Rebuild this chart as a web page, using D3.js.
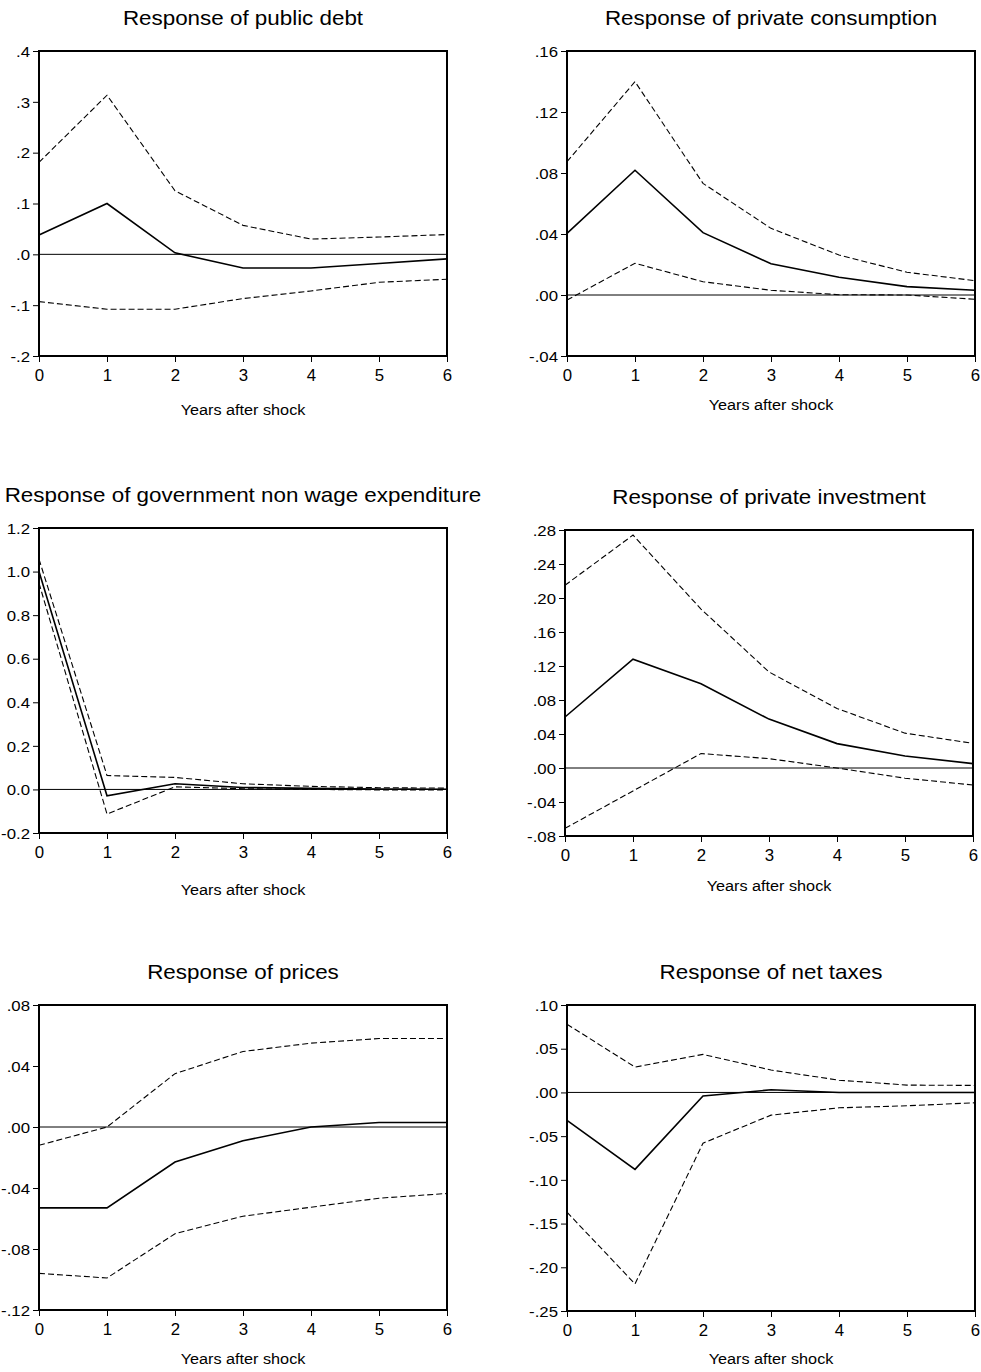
<!DOCTYPE html>
<html>
<head>
<meta charset="utf-8">
<script src="https://cdn.jsdelivr.net/npm/d3@7"></script>
<style>
  html, body { margin: 0; padding: 0; background: #fff; }
  svg { display: block; font-family: "Liberation Sans", Arial, sans-serif; }
</style>
</head>
<body>
<svg id="chart" width="981" height="1372"></svg>
<script>
// ---------- data ----------
const years = [0, 1, 2, 3, 4, 5, 6];
const xTickLabels = ["0", "1", "2", "3", "4", "5", "6"];
const xAxisTitle = "Years after shock";

const titles = [
  "Response of public debt",
  "Response of private consumption",
  "Response of government non wage expenditure",
  "Response of private investment",
  "Response of prices",
  "Response of net taxes"
];

const debtMid = [0.038, 0.100, 0.003, -0.027, -0.027, -0.018, -0.009];
const debtUp  = [0.181, 0.313, 0.125, 0.057, 0.030, 0.034, 0.039];
const debtLo  = [-0.093, -0.108, -0.108, -0.087, -0.072, -0.055, -0.049];

const consMid = [0.0404, 0.0818, 0.0409, 0.0205, 0.0116, 0.0055, 0.0031];
const consUp  = [0.0874, 0.1399, 0.0732, 0.0437, 0.0262, 0.0149, 0.0094];
const consLo  = [-0.0033, 0.0208, 0.0087, 0.0031, 0.0002, 0.0, -0.0028];

const govMid = [1.000, -0.029, 0.026, 0.009, 0.005, 0.002, 0.001];
const govUp  = [1.057, 0.064, 0.055, 0.026, 0.014, 0.008, 0.006];
const govLo  = [0.947, -0.113, 0.012, 0.003, 0.000, -0.002, -0.003];

const invMid = [0.060, 0.128, 0.099, 0.0575, 0.0287, 0.0142, 0.0051];
const invUp  = [0.215, 0.274, 0.187, 0.113, 0.070, 0.041, 0.029];
const invLo  = [-0.071, -0.027, 0.017, 0.011, 0.000, -0.012, -0.020];

const priceMid = [-0.053, -0.053, -0.023, -0.009, 0.000, 0.003, 0.003];
const priceUp  = [-0.012, 0.000, 0.035, 0.0495, 0.055, 0.058, 0.058];
const priceLo  = [-0.096, -0.099, -0.070, -0.0585, -0.0526, -0.0467, -0.0436];

const taxMid = [-0.032, -0.088, -0.004, 0.003, 0.000, 0.000, 0.000];
const taxUp  = [0.078, 0.029, 0.0435, 0.0256, 0.014, 0.0084, 0.008];
const taxLo  = [-0.137, -0.219, -0.058, -0.026, -0.0176, -0.0153, -0.0118];

const debtTicks = [-0.2, -0.1, 0, 0.1, 0.2, 0.3, 0.4];
const debtTickLabels = ["-.2", "-.1", ".0", ".1", ".2", ".3", ".4"];
const consTicks = [-0.04, 0, 0.04, 0.08, 0.12, 0.16];
const consTickLabels = ["-.04", ".00", ".04", ".08", ".12", ".16"];
const govTicks = [-0.2, 0, 0.2, 0.4, 0.6, 0.8, 1.0, 1.2];
const govTickLabels = ["-0.2", "0.0", "0.2", "0.4", "0.6", "0.8", "1.0", "1.2"];
const invTicks = [-0.08, -0.04, 0, 0.04, 0.08, 0.12, 0.16, 0.20, 0.24, 0.28];
const invTickLabels = ["-.08", "-.04", ".00", ".04", ".08", ".12", ".16", ".20", ".24", ".28"];
const priceTicks = [-0.12, -0.08, -0.04, 0, 0.04, 0.08];
const priceTickLabels = ["-.12", "-.08", "-.04", ".00", ".04", ".08"];
const taxTicks = [-0.25, -0.20, -0.15, -0.10, -0.05, 0, 0.05, 0.10];
const taxTickLabels = ["-.25", "-.20", "-.15", "-.10", "-.05", ".00", ".05", ".10"];

// ---------- layout (positions only) ----------
const layout = [
  { x0: 39,  x1: 447, y0: 51,   y1: 356,  xt: 415 },
  { x0: 567, x1: 975, y0: 51,   y1: 356,  xt: 410 },
  { x0: 39,  x1: 447, y0: 528,  y1: 833,  xt: 895 },
  { x0: 565, x1: 973, y0: 530,  y1: 836,  xt: 891 },
  { x0: 39,  x1: 447, y0: 1005, y1: 1310, xt: 1364 },
  { x0: 567, x1: 975, y0: 1005, y1: 1311, xt: 1364 }
];

const panels = [
  { title: titles[0], mid: debtMid,  up: debtUp,  lo: debtLo,  ticks: debtTicks,  labels: debtTickLabels },
  { title: titles[1], mid: consMid,  up: consUp,  lo: consLo,  ticks: consTicks,  labels: consTickLabels },
  { title: titles[2], mid: govMid,   up: govUp,   lo: govLo,   ticks: govTicks,   labels: govTickLabels },
  { title: titles[3], mid: invMid,   up: invUp,   lo: invLo,   ticks: invTicks,   labels: invTickLabels },
  { title: titles[4], mid: priceMid, up: priceUp, lo: priceLo, ticks: priceTicks, labels: priceTickLabels },
  { title: titles[5], mid: taxMid,   up: taxUp,   lo: taxLo,   ticks: taxTicks,   labels: taxTickLabels }
];

const SX = 1.12; // slight horizontal stretch of the original text
const svg = d3.select("#chart");

function stretchedText(g, x, y, str, size, anchor) {
  return g.append("text")
    .attr("transform", `translate(${x},${y}) scale(${SX},1)`)
    .attr("text-anchor", anchor)
    .attr("font-size", size)
    .attr("fill", "#000")
    .text(str);
}

panels.forEach((p, i) => {
  const L = layout[i];
  const g = svg.append("g");
  const x = d3.scaleLinear().domain([d3.min(years), d3.max(years)]).range([L.x0, L.x1]);
  const y = d3.scaleLinear().domain([d3.min(p.ticks), d3.max(p.ticks)]).range([L.y1, L.y0]);

  // title
  stretchedText(g, (L.x0 + L.x1) / 2, L.y0 - 26, p.title, 20, "middle");

  // y axis
  const yAxis = d3.axisLeft(y).tickValues(p.ticks)
    .tickFormat((d, k) => p.labels[k]).tickSize(6).tickSizeOuter(0);
  const ya = g.append("g").attr("transform", `translate(${L.x0},0)`).call(yAxis);
  ya.select(".domain").remove();
  ya.selectAll(".tick line").attr("stroke", "#000").attr("stroke-width", 1);
  ya.selectAll(".tick text")
    .attr("font-family", "Liberation Sans, Arial, sans-serif")
    .attr("font-size", 15).attr("fill", "#000")
    .attr("x", null).attr("dy", "0.35em")
    .attr("transform", `translate(-9,0) scale(${SX},1)`);

  // x axis
  const xAxis = d3.axisBottom(x).tickValues(years)
    .tickFormat((d, k) => xTickLabels[k]).tickSize(6).tickSizeOuter(0);
  const xa = g.append("g").attr("transform", `translate(0,${L.y1})`).call(xAxis);
  xa.select(".domain").remove();
  xa.selectAll(".tick line").attr("stroke", "#000").attr("stroke-width", 1);
  xa.selectAll(".tick text")
    .attr("font-family", "Liberation Sans, Arial, sans-serif")
    .attr("font-size", 16).attr("fill", "#000")
    .attr("y", null).attr("dy", null)
    .attr("transform", `translate(0,25) scale(1.05,1)`);

  // x axis title
  stretchedText(g, (L.x0 + L.x1) / 2, L.xt, xAxisTitle, 14.5, "middle");

  // zero line
  g.append("line")
    .attr("x1", L.x0).attr("x2", L.x1)
    .attr("y1", y(0)).attr("y2", y(0))
    .attr("stroke", "#000").attr("stroke-width", 1);

  const line = d3.line().x((d, k) => x(years[k])).y(d => y(d));

  g.append("path").datum(p.up).attr("d", line)
    .attr("fill", "none").attr("stroke", "#000").attr("stroke-width", 1.1)
    .attr("stroke-dasharray", "6,3");
  g.append("path").datum(p.lo).attr("d", line)
    .attr("fill", "none").attr("stroke", "#000").attr("stroke-width", 1.1)
    .attr("stroke-dasharray", "6,3");
  g.append("path").datum(p.mid).attr("d", line)
    .attr("fill", "none").attr("stroke", "#000").attr("stroke-width", 1.6);

  // frame
  g.append("rect")
    .attr("x", L.x0).attr("y", L.y0)
    .attr("width", L.x1 - L.x0).attr("height", L.y1 - L.y0)
    .attr("fill", "none").attr("stroke", "#000").attr("stroke-width", 2);
});
</script>
</body>
</html>
